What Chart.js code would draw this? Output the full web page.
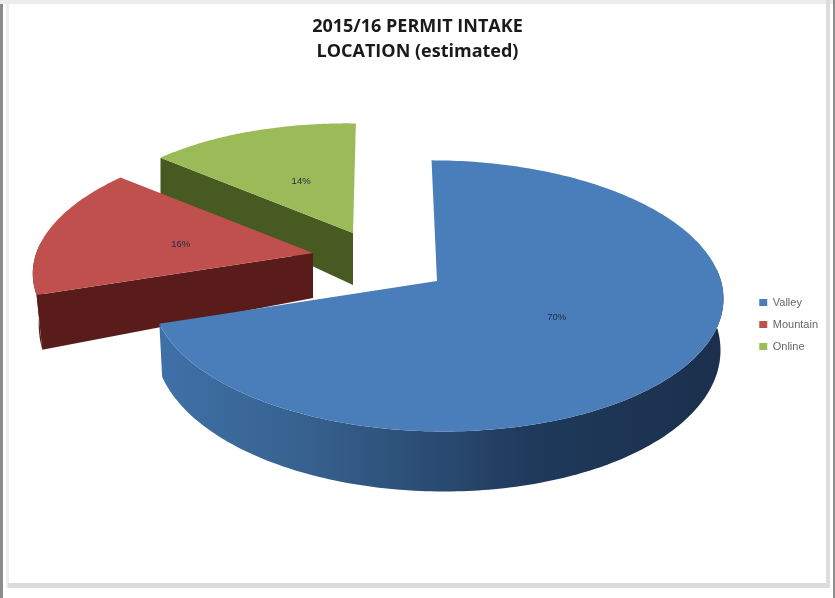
<!DOCTYPE html>
<html>
<head>
<meta charset="utf-8">
<title>2015/16 Permit Intake Location</title>
<script src="https://cdn.jsdelivr.net/npm/chart.js@4"></script>
<style>
html,body{margin:0;padding:0;background:#fff}
#wrap{position:relative;width:835px;height:598px;overflow:hidden}
#chart{position:absolute;left:0;top:0}
.edge{position:absolute}
</style>
</head>
<body>
<div id="wrap">
<canvas id="chart" width="835" height="598"></canvas>
<div class="edge" style="left:0;top:0;width:3px;height:598px;background:#8c8c8c"></div>
<div class="edge" style="left:6px;top:0;width:3px;height:588px;background:#eeeeee"></div>
<div class="edge" style="left:0;top:0;width:835px;height:4px;background:#ececec"></div>
<div class="edge" style="left:8px;top:583px;width:822px;height:5px;background:#dcdcdc"></div>
<div class="edge" style="left:826px;top:0;width:4px;height:588px;background:#dddddd"></div>
<div class="edge" style="left:833px;top:0;width:2px;height:598px;background:#8c8c8c"></div>
</div>
<script>
const categories=["Valley","Mountain","Online"]
const shares=[70,16,14]
const shareLabels=["70%","16%","14%"]

const topColors=["#4a7ebb","#c0504d","#9bbb59"]
const wallColors=["#2a4a72","#5a1c1a","#465a22"]

// how each pulled-out slice sits in perspective: apex, unit vectors, foreshortening, wall depth
const views=[
{ox:437,oy:281,ax:284,ay:0,bx:-42,by:103,p:0.11,d0:50,d1:10,spread:-3,cutFace:false,labelF:0.44,nudgeX:14,nudgeY:1},
{ox:313,oy:253,ax:277,ay:-1,bx:-46,by:100,p:0.11,d0:45,d1:32,spread:-6,cutFace:true,labelF:0.476,nudgeX:-5,nudgeY:2},
{ox:353,oy:233,ax:270,ay:4,bx:-42,by:96,p:0.11,d0:52,d1:22,spread:0,cutFace:true,labelF:0.505,nudgeX:2,nudgeY:2}
]

function project(v,th,f){
let u=Math.sin(th)*f
let t=-Math.cos(th)*f
let w=1-v.p*t
return {x:(v.ox+v.ax*u+v.bx*t)/w,y:(v.oy+v.ay*u+v.by*t)/w,u:u,t:t}
}

function drop(v,pt){
return {x:pt.x+v.spread*pt.u,y:pt.y+v.d0+v.d1*pt.t}
}

function arcPoints(v,a,b){
let pts=[]
let n=Math.max(8,Math.round((b-a)*60))
for(let i=0;i<=n;i++){
pts.push(project(v,a+(b-a)*i/n,1))
}
return pts
}

function fillPath(ctx,pts,color){
ctx.beginPath()
pts.forEach((p,i)=>{
if(i==0) ctx.moveTo(p.x,p.y)
else ctx.lineTo(p.x,p.y)
})
ctx.closePath()
ctx.fillStyle=color
ctx.fill()
}

function wallFill(ctx,i){
if(i!=0) return wallColors[i]
// the big slice darkens from left to right along its rim
let g=ctx.createLinearGradient(160,0,724,0)
g.addColorStop(0,"#3f70a8")
g.addColorStop(0.25,"#37628f")
g.addColorStop(0.5,"#294a70")
g.addColorStop(0.65,"#1f3a5c")
g.addColorStop(1,"#1b2f4c")
return g
}

const extrudedPie={
id:"extrudedPie",
beforeDatasetDraw(chart,args){
let ctx=chart.ctx
let arcs=args.meta.data
ctx.save()
for(let i=arcs.length-1;i>=0;i--){
let v=views[i]
// arc angles start at 3 o'clock, the view counts from 12 o'clock
let a=arcs[i].startAngle+Math.PI/2
let b=arcs[i].endAngle+Math.PI/2
let rim=arcPoints(v,a,b)
let apex=project(v,0,0)
let first=rim[0]
let fill=wallFill(ctx,i)
// cut face, then the front of the rim, then the top
if(v.cutFace) fillPath(ctx,[apex,first,drop(v,first),drop(v,apex)],fill)
let front=rim.filter(p=>p.t>-0.1)
if(front.length>1) fillPath(ctx,front.concat(front.map(p=>drop(v,p)).reverse()),fill)
fillPath(ctx,[apex].concat(rim),topColors[i])
// percentage on the top face
let mid=project(v,(a+b)/2,v.labelF)
ctx.fillStyle="#1f2a44"
ctx.font="9.5px 'Liberation Sans'"
ctx.textAlign="center"
ctx.textBaseline="middle"
ctx.fillText(shareLabels[i],mid.x+v.nudgeX,mid.y+v.nudgeY)
}
ctx.restore()
return false
}
}

new Chart(document.getElementById("chart"),{
type:"pie",
data:{
labels:categories,
datasets:[{data:shares,backgroundColor:topColors,borderWidth:0}]
},
options:{
responsive:false,
animation:false,
layout:{padding:{top:14,right:7,bottom:235,left:7}},
plugins:{
tooltip:{enabled:false},
title:{
display:true,
text:["2015/16 PERMIT INTAKE","LOCATION (estimated)"],
color:"#1a1a1a",
font:{family:"'Open Sans'",size:18,weight:"bold",lineHeight:1.39},
padding:{top:0,bottom:0}
},
legend:{
position:"right",
align:"end",
labels:{
boxWidth:8,
boxHeight:7,
padding:11,
color:"#666666",
font:{family:"'Liberation Sans'",size:11}
}
}
}
},
plugins:[extrudedPie]
})
</script>
</body>
</html>
